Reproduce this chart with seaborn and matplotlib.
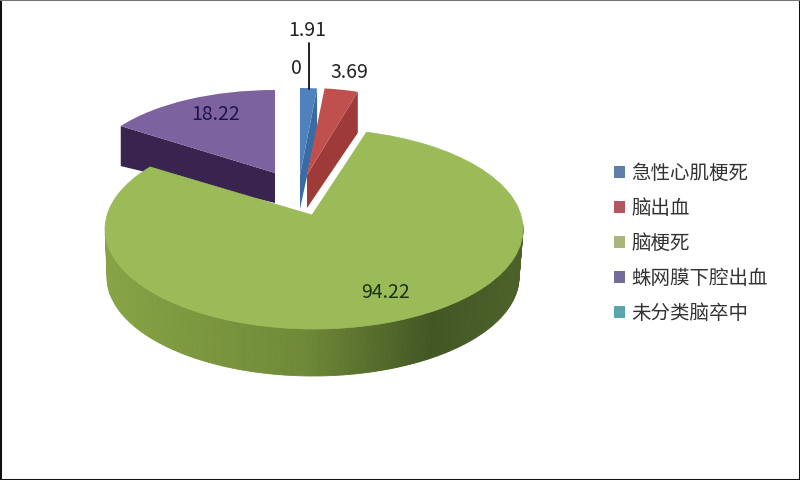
import numpy as np
import seaborn as sns
import matplotlib.pyplot as plt
from matplotlib.patches import Patch
from matplotlib.transforms import Affine2D
from matplotlib.colors import LinearSegmentedColormap

# data
categories = ['急性心肌梗死', '脑出血', '脑梗死', '蛛网膜下腔出血', '未分类脑卒中']
values = [1.91, 3.69, 94.22, 18.22, 0]
value_labels = ['1.91', '3.69', '94.22', '18.22', '0']

top_colors = ['#4f81bd', '#c0504d', '#9bbb59', '#7d62a0', '#4bacc6']
wall_colors = ['#3b6ba3', '#9e3b39', '#6f8a38', '#39244f', '#31859c']
legend_colors = ['#5f7fa9', '#b2565f', '#a9b57c', '#736c99', '#5ba6ad']

sns.set_theme(style='white')
plt.rcParams['font.family'] = ['Noto Sans CJK SC', 'DejaVu Sans']

fig = plt.figure(figsize=(8, 4.8), dpi=100, facecolor='white')
ax = fig.add_axes([0, 0, 1, 1])


def placing(cx, cy, rx, ry, rot=0):
    # unit pie -> pixel position of one exploded slice
    return Affine2D().rotate_deg(rot).scale(rx, -ry).translate(cx, cy)


def rim(place, angle):
    a = np.radians(angle)
    return place.transform(np.column_stack([np.cos(a), np.sin(a)]))


wedges, _ = ax.pie(values, colors=top_colors, startangle=90, counterclock=False,
                   radius=1, wedgeprops={'linewidth': 0})
blue, red, green, purple, teal = wedges
teal.set_visible(False)

ax.set_aspect('auto')
ax.set_xlim(0, 800)
ax.set_ylim(480, 0)

# the thin frame round the picture (pie switches the frame off)
ax.set_frame_on(True)
ax.set_xticks([])
ax.set_yticks([])
for side in ['left', 'right', 'bottom']:
    ax.spines[side].set_visible(True)
    ax.spines[side].set_color('#111111')
    ax.spines[side].set_linewidth(2.2)
ax.spines['top'].set_visible(True)
ax.spines['top'].set_color('#777777')
ax.spines['top'].set_linewidth(1.5)

# small back slices: top face + one radial wall
back = [
    (purple, placing(275, 173, 187, 83), purple.theta2, (275, 173), 30, 40, 3, wall_colors[3]),
    (blue, placing(300, 175, 168, 87), blue.theta1, (300, 175), 34, 41, 4, wall_colors[0]),
    (red, placing(307, 175, 173, 87), red.theta1, (307, 175), 33, 41, 5, wall_colors[1]),
]
for wedge, place, angle, apex, apex_d, rim_d, z, wall in back:
    wedge.set_transform(place + ax.transData)
    wedge.set_zorder(z + 0.5)
    p = rim(place, [angle])[0]
    ax.fill([p[0], apex[0], apex[0], p[0]],
            [p[1], apex[1], apex[1] + apex_d, p[1] + rim_d],
            color=wall, linewidth=0, zorder=z)

# big green slice, perspective makes it look wider on the left
green_top = placing(314, 229, 209, 100, 2.5)
green_bottom = placing(313, 277, 206, 99, 2.5)
green.set_theta1(green.theta1 - 6.4)
green.set_transform(green_top + ax.transData)
green.set_edgecolor(top_colors[2])
green.set_linewidth(0.5)
green.set_zorder(11)

# inner corner sits higher than the ellipse centre
corner = rim(green_top, [green.theta1, green.theta2])
ax.fill([312, corner[0][0], 314, corner[1][0]],
        [215, corner[0][1], 229, corner[1][1]],
        color=top_colors[2], linewidth=0.5, zorder=11)

# outer wall, shaded left to right
wall_cmap = LinearSegmentedColormap.from_list(
    'wall', [(0, '#86a345'), (0.47, '#6f8a38'), (0.78, '#425623'), (1, '#4b6129')])
steps = np.linspace(180, 360, 121)
upper = rim(green_top, steps)
lower = rim(green_bottom, steps)
for i in range(len(steps) - 1):
    c = wall_cmap((upper[i][0] - 105) / 418)
    ax.fill([upper[i][0], upper[i + 1][0], lower[i + 1][0], lower[i][0]],
            [upper[i][1], upper[i + 1][1], lower[i + 1][1], lower[i][1]],
            color=c, linewidth=0.6, zorder=10)

# value labels
ax.plot([309, 309], [43, 89], color='#111111', linewidth=1.3, zorder=12)
ax.text(307, 30, value_labels[0], ha='center', va='center', fontsize=14, color='#222222', zorder=13)
ax.text(349, 72, value_labels[1], ha='center', va='center', fontsize=14, color='#222222', zorder=13)
ax.text(385, 293, value_labels[2], ha='center', va='center', fontsize=14, color='#1c3312', zorder=13)
ax.text(216, 115, value_labels[3], ha='center', va='center', fontsize=14, color='#1d1450', zorder=13)
ax.text(296, 68, value_labels[4], ha='center', va='center', fontsize=14, color='#222222', zorder=13)

# legend
handles = [Patch(facecolor=c, linewidth=0) for c in legend_colors]
leg = ax.legend(handles, categories, loc='center left', bbox_to_anchor=(0.745, 0.4926),
                frameon=False, fontsize=14, handlelength=0.57, handleheight=0.57,
                handletextpad=0.35, labelspacing=0.72, labelcolor='#333333')

fig.savefig('out.png', dpi=100, facecolor='white')
